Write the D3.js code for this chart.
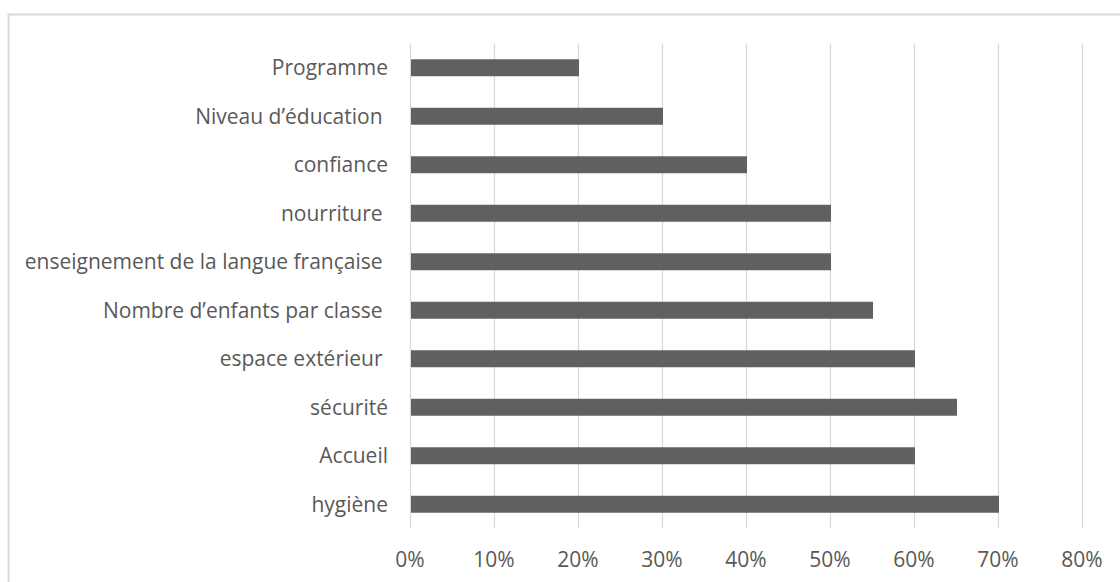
<!DOCTYPE html>
<html>
<head>
<meta charset="utf-8">
<script src="https://cdn.jsdelivr.net/npm/d3@7"></script>
<style>
  html, body { margin: 0; padding: 0; background: #fff; }
  svg { display: block; }
  text { font-family: "Open Sans", sans-serif; fill: #595959; white-space: pre; }
</style>
</head>
<body>
<svg id="chart" width="1120" height="582"></svg>
<script>
const categories = [
  "Programme",
  "Niveau d\u2019éducation ",
  "confiance",
  "nourriture ",
  "enseignement de la langue française ",
  "Nombre d\u2019enfants par classe ",
  "espace extérieur ",
  "sécurité",
  "Accueil",
  "hygiène"
];
const values = [0.20, 0.30, 0.40, 0.50, 0.50, 0.55, 0.60, 0.65, 0.60, 0.70];
const tickValues = [0, 0.1, 0.2, 0.3, 0.4, 0.5, 0.6, 0.7, 0.8];

const svg = d3.select("#chart");
const W = 1120, H = 582;

// chart border (extends past right/bottom edges)
svg.append("rect")
  .attr("x", 8.5).attr("y", 14.5)
  .attr("width", W + 20).attr("height", H + 20)
  .attr("fill", "none")
  .attr("stroke", "#d9d9d9")
  .attr("stroke-width", 2);

const plot = { left: 410, right: 1082, top: 43.5, bottom: 528.5 };

const x = d3.scaleLinear().domain([0, 0.8]).range([plot.left, plot.right]);
const y = d3.scaleBand().domain(categories).range([plot.top, plot.bottom])
  .paddingInner(0.65).paddingOuter(0.325);

// gridlines
svg.append("g").selectAll("line").data(tickValues).join("line")
  .attr("x1", d => Math.round(x(d)) + 0.5).attr("x2", d => Math.round(x(d)) + 0.5)
  .attr("y1", plot.top).attr("y2", plot.bottom)
  .attr("stroke", "#d9d9d9").attr("stroke-width", 1.2);

// bars
svg.append("g").selectAll("rect").data(categories).join("rect")
  .attr("x", x(0) + 1)
  .attr("y", d => y(d))
  .attr("width", (d, i) => x(values[i]) - x(0))
  .attr("height", y.bandwidth())
  .attr("fill", "#606060");

// category labels
svg.append("g").selectAll("text").data(categories).join("text")
  .attr("x", 388)
  .attr("y", d => y(d) + y.bandwidth() / 2)
  .attr("dy", "0.35em")
  .attr("text-anchor", "end")
  .attr("font-size", 21)
  .text(d => d);

// x tick labels
svg.append("g").selectAll("text").data(tickValues).join("text")
  .attr("x", d => x(d))
  .attr("y", 560)
  .attr("dy", "0.35em")
  .attr("text-anchor", "middle")
  .attr("font-size", 21)
  .text(d => d3.format(".0%")(d));
</script>
</body>
</html>
